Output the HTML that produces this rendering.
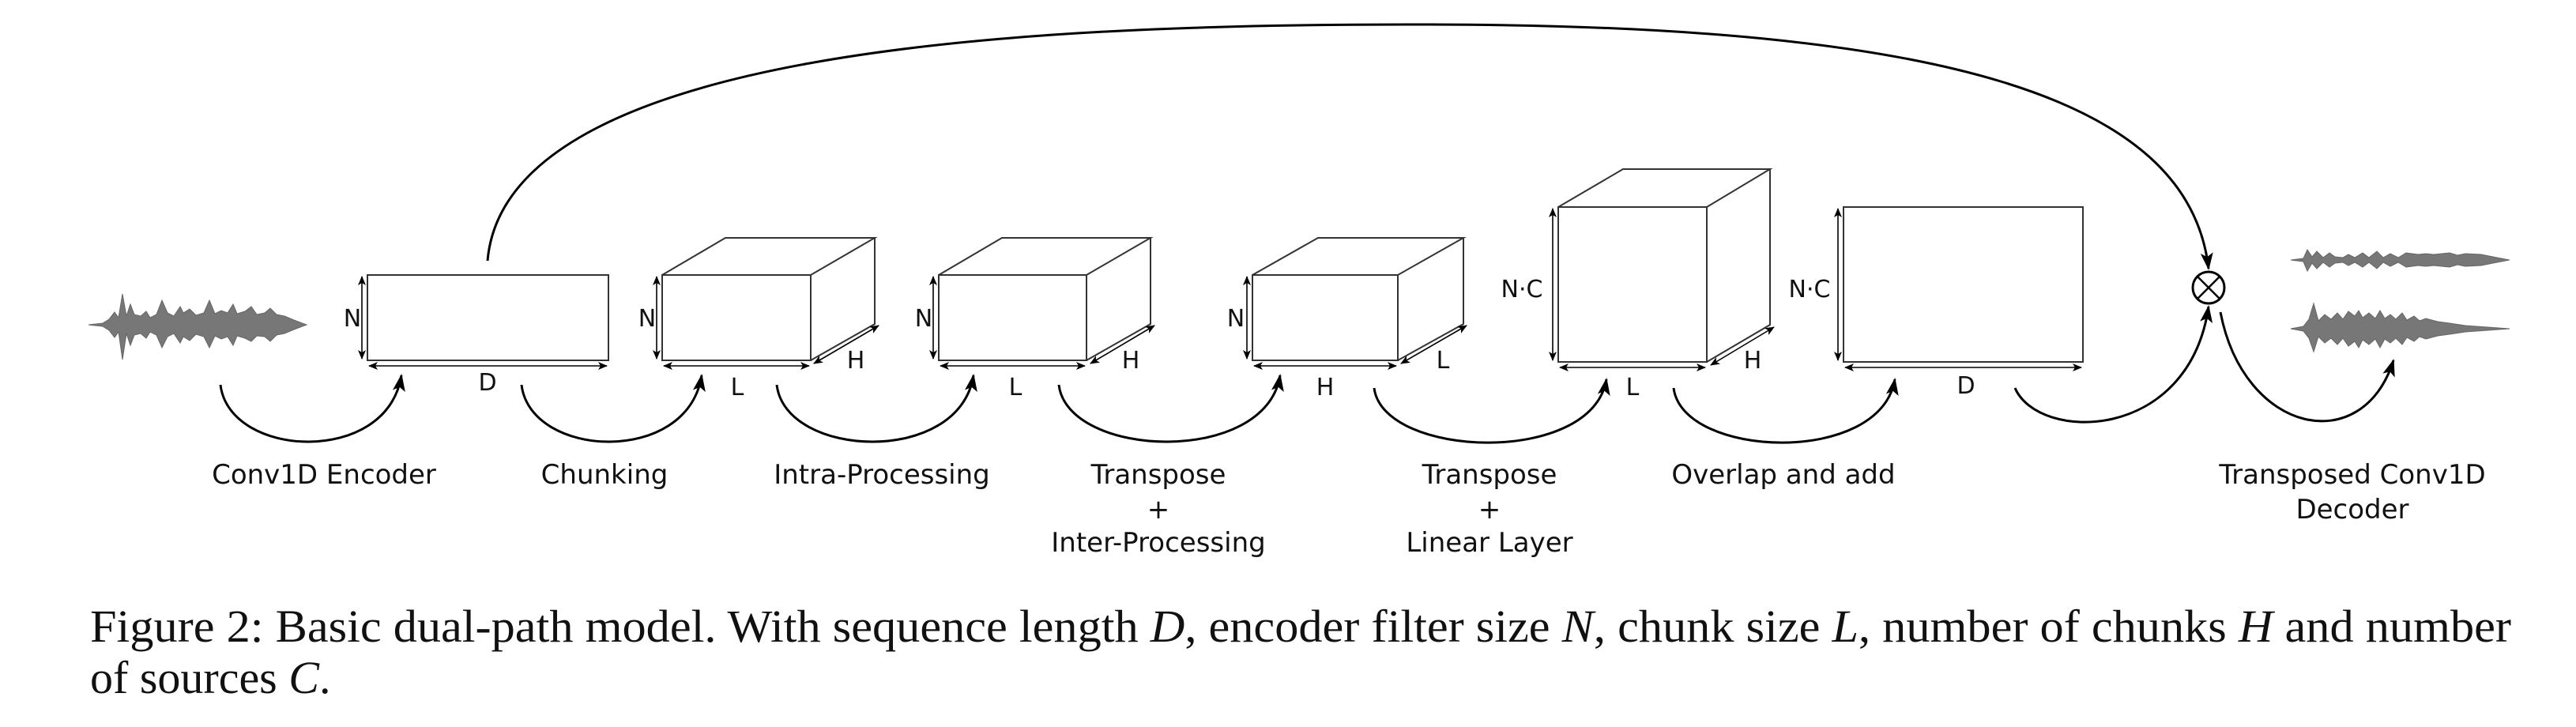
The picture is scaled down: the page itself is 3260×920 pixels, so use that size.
<!DOCTYPE html>
<html><head><meta charset="utf-8"><style>
html,body{margin:0;padding:0;background:#fff;}
svg{display:block;}
.lb{font-family:"DejaVu Sans",sans-serif;font-size:34px;fill:#111;text-anchor:middle;}
.dim{font-family:"DejaVu Sans",sans-serif;font-size:30px;fill:#111;text-anchor:middle;}
.cap{font-family:"Liberation Serif",serif;font-size:58px;fill:#111;}
</style></head><body>
<svg width="3260" height="920" viewBox="0 0 3260 920" xmlns="http://www.w3.org/2000/svg">
<defs>
<marker id="ah" markerWidth="10" markerHeight="10" refX="9" refY="5" orient="auto" markerUnits="userSpaceOnUse" viewBox="0 0 10 10">
<path d="M0,0 L10,5 L0,10 L3,5 z" fill="#000"/></marker>
<marker id="big" markerWidth="22" markerHeight="22" refX="20" refY="11" orient="auto" markerUnits="userSpaceOnUse" viewBox="0 0 22 22">
<path d="M0,3 L22,11 L0,19 L5,11 z" fill="#000"/></marker>
<marker id="sa" markerWidth="12" markerHeight="12" refX="11" refY="6" orient="auto-start-reverse" markerUnits="userSpaceOnUse" viewBox="0 0 12 12">
<path d="M0,1 L12,6 L0,11 L3,6 z" fill="#000"/></marker>
</defs>

<path d="M617,330 C 640,60 1300,30 1810,31 C 2450,32 2770,120 2795,340" fill="none" stroke="#000" stroke-width="3" marker-end="url(#big)"/>

<path fill="#777" stroke="#666" stroke-width="1" d="M112,411 L130,409 L138,404 L145,395 L150,402 L155,372 L160,400 L165,385 L170,398 L178,400 L185,394 L190,402 L198,398 L205,380 L212,396 L220,400 L228,388 L232,396 L240,391 L248,399 L258,396 L265,380 L272,397 L280,393 L288,396 L295,385 L300,397 L310,394 L318,388 L325,398 L335,396 L342,390 L350,398 L360,400 L372,405 L388,411 L372,417 L360,422 L350,424 L342,432 L335,426 L325,425 L318,432 L310,428 L300,425 L295,437 L288,426 L280,429 L272,425 L265,440 L258,426 L248,423 L240,431 L232,426 L228,434 L220,422 L212,426 L205,440 L198,424 L190,420 L185,428 L178,422 L170,424 L165,437 L160,422 L155,455 L150,420 L145,427 L138,418 L130,413 Z"/>

<g stroke="#333" stroke-width="2" fill="none">
<rect x="465" y="348" width="305" height="108"/>
<rect x="838" y="348" width="188" height="108"/>
<path d="M838,348 L918,301 L1107,301 L1026,348 M1107,301 L1107,410 L1026,456"/>
<rect x="1188" y="348" width="187" height="108"/>
<path d="M1188,348 L1268,301 L1456,301 L1375,348 M1456,301 L1456,410 L1375,456"/>
<rect x="1585" y="348" width="184" height="108"/>
<path d="M1585,348 L1668,301 L1852,301 L1769,348 M1852,301 L1852,410 L1769,456"/>
<rect x="1972" y="262" width="188" height="196"/>
<path d="M1972,262 L2054,214 L2240,214 L2160,262 M2240,214 L2240,411 L2160,458"/>
<rect x="2333" y="262" width="303" height="196"/>
</g>

<g stroke="#000" stroke-width="1.6" fill="none" marker-start="url(#sa)" marker-end="url(#sa)">
<line x1="458" y1="350" x2="458" y2="454"/>
<line x1="467" y1="463" x2="768" y2="463"/>
<line x1="831" y1="350" x2="831" y2="454"/>
<line x1="840" y1="463" x2="1024" y2="463"/>
<line x1="1030" y1="460" x2="1112" y2="412"/>
<line x1="1181" y1="350" x2="1181" y2="454"/>
<line x1="1190" y1="463" x2="1373" y2="463"/>
<line x1="1380" y1="460" x2="1461" y2="412"/>
<line x1="1578" y1="350" x2="1578" y2="454"/>
<line x1="1587" y1="463" x2="1767" y2="463"/>
<line x1="1773" y1="460" x2="1856" y2="412"/>
<line x1="1965" y1="264" x2="1965" y2="456"/>
<line x1="1974" y1="465" x2="2158" y2="465"/>
<line x1="2165" y1="462" x2="2245" y2="414"/>
<line x1="2326" y1="264" x2="2326" y2="456"/>
<line x1="2335" y1="465" x2="2634" y2="465"/>
</g>

<g class="dim">
<text x="446" y="413">N</text><text x="617" y="494">D</text>
<text x="819" y="413">N</text><text x="933" y="500">L</text><text x="1083" y="466">H</text>
<text x="1169" y="413">N</text><text x="1285" y="500">L</text><text x="1431" y="466">H</text>
<text x="1564" y="413">N</text><text x="1677" y="500">H</text><text x="1826" y="466">L</text>
<text x="1926" y="376">N·C</text><text x="2066" y="500">L</text><text x="2218" y="466">H</text>
<text x="2290" y="376">N·C</text><text x="2488" y="498">D</text>
</g>

<g stroke="#000" stroke-width="3" fill="none" marker-end="url(#big)">
<path d="M279,487 C 290,580 490,590 508,475"/>
<path d="M660,487 C 671,580 870,590 888,475"/>
<path d="M983,487 C 994,580 1214,590 1232,475"/>
<path d="M1340,487 C 1351,580 1602,590 1620,475"/>
<path d="M1739,491 C 1750,580 2015,590 2033,480"/>
<path d="M2118,491 C 2129,580 2380,590 2398,480"/>
<path d="M2550,491 C 2580,560 2770,560 2795,388"/>
<path d="M2810,395 C 2840,550 2990,580 3029,456"/>
</g>

<circle cx="2795" cy="364" r="20" fill="#fff" stroke="#000" stroke-width="3"/>
<path d="M2781,350 L2809,378 M2809,350 L2781,378" stroke="#000" stroke-width="2.5"/>

<path fill="#777" stroke="#666" stroke-width="1" d="M2899,329 L2915,327 L2920,316 L2926,325 L2932,318 L2940,326 L2948,320 L2955,325 L2965,326 L2972,322 L2980,326 L2990,320 L2998,326 L3008,318 L3016,326 L3025,321 L3035,326 L3045,320 L3060,322 L3070,321 L3080,322 L3100,320 L3110,323 L3120,321 L3140,322 L3160,326 L3176,329 L3160,332 L3140,336 L3120,337 L3110,335 L3100,338 L3080,336 L3070,337 L3060,336 L3045,338 L3035,332 L3025,337 L3016,332 L3008,340 L2998,332 L2990,338 L2980,332 L2972,336 L2965,332 L2955,333 L2948,338 L2940,332 L2932,340 L2926,333 L2920,343 L2915,331 Z"/>
<path fill="#777" stroke="#666" stroke-width="1" d="M2899,416 L2915,413 L2922,404 L2928,384 L2934,406 L2942,398 L2950,404 L2958,396 L2965,404 L2972,394 L2980,400 L2985,393 L2990,402 L2998,396 L3006,403 L3012,393 L3018,403 L3025,398 L3032,404 L3040,396 L3046,405 L3055,400 L3062,406 L3070,403 L3085,407 L3100,409 L3120,412 L3176,416 L3120,420 L3100,423 L3085,425 L3070,429 L3062,426 L3055,432 L3046,427 L3040,436 L3032,428 L3025,434 L3018,429 L3012,440 L3006,429 L2998,436 L2990,430 L2985,440 L2980,432 L2972,438 L2965,428 L2958,436 L2950,428 L2942,434 L2934,426 L2928,445 L2922,428 L2915,419 Z"/>

<g class="lb">
<text x="410" y="612">Conv1D Encoder</text>
<text x="765" y="612">Chunking</text>
<text x="1116" y="612">Intra-Processing</text>
<text x="1466" y="612">Transpose</text>
<text x="1466" y="656">+</text>
<text x="1466" y="698">Inter-Processing</text>
<text x="1885" y="612">Transpose</text>
<text x="1885" y="656">+</text>
<text x="1885" y="698">Linear Layer</text>
<text x="2257" y="612">Overlap and add</text>
<text x="2977" y="612">Transposed Conv1D</text>
<text x="2977" y="656">Decoder</text>
</g>

<text class="cap" x="114" y="812" textLength="3064" lengthAdjust="spacingAndGlyphs">Figure 2: Basic dual-path model. With sequence length <tspan font-style="italic">D</tspan>, encoder filter size <tspan font-style="italic">N</tspan>, chunk size <tspan font-style="italic">L</tspan>, number of chunks <tspan font-style="italic">H</tspan> and number</text>
<text class="cap" x="114" y="877">of sources <tspan font-style="italic">C</tspan>.</text>
</svg>
</body></html>
